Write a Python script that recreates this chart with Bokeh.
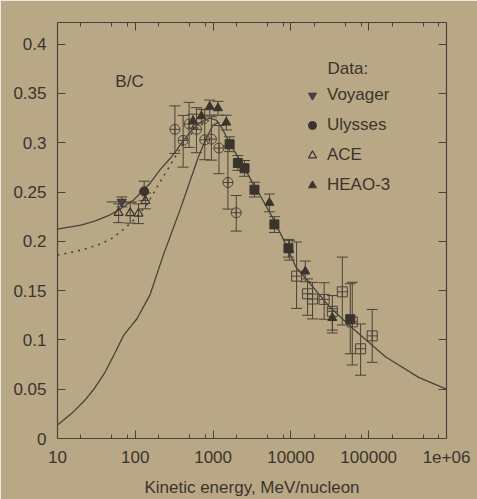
from bokeh.plotting import figure
from bokeh.models import (ColumnDataSource, Whisker, TeeHead, FixedTicker, LinearAxis,
                          LogAxis, Legend, LegendItem, Label, Range1d)
from bokeh.embed import file_html
from bokeh.resources import INLINE

BG = "#b9a885"
INK = "#3b342d"
LINE = "#4a4239"
FONT = "Liberation Sans"

# ---- model curves (kinetic energy MeV/nucleon, B/C ratio) ----
upper_E = [10, 20, 30, 45, 65, 95, 155, 210, 280, 330, 410, 550, 700, 900, 1100, 1300,
           1550, 2000, 2500, 3400, 4000, 6000, 8000, 11600, 20000, 31000, 61500,
           164000, 438000, 1e6]
upper_v = [0.2125, 0.2165, 0.2205, 0.226, 0.233, 0.242, 0.259, 0.273, 0.284, 0.291,
           0.302, 0.314, 0.321, 0.325, 0.323, 0.315, 0.303, 0.288, 0.275, 0.256, 0.247,
           0.222, 0.202, 0.174, 0.152, 0.134, 0.112, 0.083, 0.062, 0.05]

dotted_E = [10, 20, 35, 50, 70, 100, 140, 200, 280, 350, 450, 600, 800, 1000]
dotted_v = [0.186, 0.191, 0.197, 0.203, 0.212, 0.223, 0.237, 0.258, 0.277, 0.29,
            0.303, 0.314, 0.321, 0.325]

lower_E = [10, 15, 22, 30, 40, 55, 70, 80, 105, 155, 229, 374, 641, 820, 1000, 1200]
lower_v = [0.0136, 0.025, 0.038, 0.051, 0.066, 0.087, 0.104, 0.11, 0.1215, 0.146,
           0.186, 0.2314, 0.2848, 0.305, 0.318, 0.321]

# ---- data sets ----
voy_E = [67]
voy_v = [0.240]
voy_lo = [0.235]
voy_hi = [0.245]
voy_Elo = [43]
voy_Ehi = [105]

uly_E = [130]
uly_v = [0.2507]
uly_lo = [0.2415]
uly_hi = [0.261]

ace_E = [61, 86, 110, 135]
ace_v = [0.229, 0.2287, 0.2283, 0.241]
ace_lo = [0.219, 0.2185, 0.218, 0.233]
ace_hi = [0.238, 0.239, 0.238, 0.249]

heao_E = [553, 708, 906, 1156, 1479, 5300, 9550, 15300, 34100]
heao_v = [0.322, 0.327, 0.3366, 0.3351, 0.3206, 0.2392, 0.1912, 0.1695, 0.1223]
heao_lo = [0.315, 0.320, 0.328, 0.328, 0.313, 0.230, 0.181, 0.159, 0.107]
heao_hi = [0.329, 0.334, 0.3433, 0.342, 0.328, 0.248, 0.201, 0.180, 0.1316]

cc_E = [323, 412, 492, 611, 781, 951, 1190, 1550, 1985]
cc_v = [0.3136, 0.3024, 0.319, 0.3135, 0.303, 0.3037, 0.2946, 0.2597, 0.229]
cc_lo = [0.2892, 0.2753, 0.2953, 0.2899, 0.2828, 0.2824, 0.2686, 0.2327, 0.2104]
cc_hi = [0.3374, 0.3278, 0.341, 0.3356, 0.3335, 0.3264, 0.3175, 0.2968, 0.2465]

fs_E = [1630, 2080, 2535, 3400, 6140, 9300, 58000]
fs_v = [0.2985, 0.2795, 0.2741, 0.2524, 0.2172, 0.193, 0.121]
fs_lo = [0.291, 0.272, 0.266, 0.245, 0.209, 0.184, 0.086]
fs_hi = [0.306, 0.287, 0.282, 0.260, 0.225, 0.202, 0.157]

sq_E = [11830, 16370, 18960, 26750, 34100, 45800, 61500, 78700, 110900]
sq_v = [0.1647, 0.1468, 0.1415, 0.1411, 0.129, 0.1488, 0.1183, 0.091, 0.1041]
sq_lo = [0.132, 0.125, 0.1213, 0.121, 0.110, 0.1152, 0.0746, 0.0642, 0.0773]
sq_hi = [0.1993, 0.1619, 0.1583, 0.158, 0.145, 0.184, 0.1585, 0.1162, 0.1309]

x_major = [10, 100, 1000, 10000, 100000, 1e6]
x_labels = ["10", "100", "1000", "10000", "100000", "1e+06"]
y_major = [0, 0.05, 0.1, 0.15, 0.2, 0.25, 0.3, 0.35, 0.4]
y_labels = ["0", "0.05", "0.1", "0.15", "0.2", "0.25", "0.3", "0.35", "0.4"]

p = figure(width=477, height=499, x_axis_type="log",
           x_range=Range1d(10, 1e6), y_range=Range1d(0, 0.422),
           output_backend="svg", toolbar_location=None,
           min_border_left=57, min_border_right=31, min_border_top=22,
           min_border_bottom=59)
p.background_fill_color = BG
p.border_fill_color = BG
p.outline_line_color = LINE
p.outline_line_width = 1.2
p.grid.visible = False

x_minor = [m * d for d in x_major[:-1] for m in (2, 5, 8)]
xt = FixedTicker(ticks=x_major, minor_ticks=x_minor)
yt = FixedTicker(ticks=y_major, minor_ticks=[])

def style(ax):
    ax.axis_line_color = LINE
    ax.major_tick_line_color = LINE
    ax.minor_tick_line_color = LINE
    ax.major_tick_in = 8
    ax.major_tick_out = 0
    ax.minor_tick_in = 4
    ax.minor_tick_out = 0
    ax.major_label_text_font = FONT
    ax.major_label_text_font_size = "17px"
    ax.major_label_text_color = INK
    ax.axis_label_text_font = FONT
    ax.axis_label_text_font_size = "17px"
    ax.axis_label_text_font_style = "normal"
    ax.axis_label_text_color = INK

xa = p.xaxis[0]
xa.ticker = xt
xa.major_label_overrides = dict(zip(x_major, x_labels))
xa.axis_label = "Kinetic energy, MeV/nucleon"
style(xa)
xa.major_label_standoff = 12
xa.axis_label_standoff = 12

ya = p.yaxis[0]
ya.ticker = yt
ya.major_label_overrides = dict(zip(y_major, y_labels))
style(ya)
ya.major_label_standoff = 11

top = LogAxis(ticker=xt)
style(top)
top.major_label_text_font_size = "1px"
top.major_label_text_alpha = 0
top.major_label_standoff = 0
p.add_layout(top, "above")

right = LinearAxis(ticker=yt)
style(right)
right.major_label_text_font_size = "1px"
right.major_label_text_alpha = 0
right.major_label_standoff = 0
p.add_layout(right, "right")

# curves
p.line(upper_E, upper_v, line_color=LINE, line_width=1.3)
p.line(dotted_E, dotted_v, line_color=LINE, line_width=1.6, line_dash="2 5")
p.line(lower_E, lower_v, line_color=LINE, line_width=1.3)

def bars(E, lo, hi):
    src = ColumnDataSource(dict(x=E, lo=lo, hi=hi))
    w = Whisker(source=src, base="x", lower="lo", upper="hi", dimension="height",
                line_color=LINE, line_width=1,
                lower_head=TeeHead(size=11, line_color=LINE, line_width=1),
                upper_head=TeeHead(size=11, line_color=LINE, line_width=1))
    p.add_layout(w)

for E, lo, hi in [(cc_E, cc_lo, cc_hi), (sq_E, sq_lo, sq_hi), (fs_E, fs_lo, fs_hi),
                  (heao_E, heao_lo, heao_hi), (ace_E, ace_lo, ace_hi),
                  (uly_E, uly_lo, uly_hi), (voy_E, voy_lo, voy_hi)]:
    bars(E, lo, hi)

hsrc = ColumnDataSource(dict(y=voy_v, lo=voy_Elo, hi=voy_Ehi))
p.add_layout(Whisker(source=hsrc, base="y", lower="lo", upper="hi", dimension="width",
                     line_color=LINE, line_width=1,
                     lower_head=None, upper_head=None))

p.scatter(cc_E, cc_v, marker="circle_cross", size=10, fill_alpha=0,
          line_color=LINE, line_width=1)
p.scatter(sq_E, sq_v, marker="square_cross", size=10, fill_alpha=0,
          line_color=LINE, line_width=1)
p.scatter(fs_E, fs_v, marker="square", size=9, fill_color=INK, line_color=INK)
r_heao = p.scatter(heao_E, heao_v, marker="triangle", size=9, fill_color=INK,
                   line_color=INK)
r_ace = p.scatter(ace_E, ace_v, marker="triangle", size=9, fill_alpha=0,
                  line_color=INK, line_width=1.2)
r_uly = p.scatter(uly_E, uly_v, marker="circle", size=9, fill_color=INK,
                  line_color=INK)
r_voy = p.scatter(voy_E, voy_v, marker="inverted_triangle", size=9,
                  fill_color="#4b3f5c", line_color=INK)

legend = Legend(items=[LegendItem(label="Voyager", renderers=[r_voy]),
                       LegendItem(label="Ulysses", renderers=[r_uly]),
                       LegendItem(label="ACE", renderers=[r_ace]),
                       LegendItem(label="HEAO-3", renderers=[r_heao])],
                location=(245, 243), orientation="vertical",
                glyph_width=20, glyph_height=20, label_height=20, spacing=10,
                label_standoff=5, padding=0, margin=0,
                label_text_font=FONT, label_text_font_size="17px",
                label_text_color=INK, border_line_alpha=0,
                background_fill_alpha=0)
p.add_layout(legend)

p.add_layout(Label(x=270, y=370, x_units="screen", y_units="screen", text="Data:",
                   text_font=FONT, text_font_size="17px", text_color=INK,
                   text_baseline="middle", text_align="left"))
p.add_layout(Label(x=72, y=357, x_units="screen", y_units="screen", text="B/C",
                   text_font=FONT, text_font_size="17px", text_color=INK,
                   text_baseline="middle", text_align="center"))

open("out.html", "w").write(file_html(p, INLINE))
